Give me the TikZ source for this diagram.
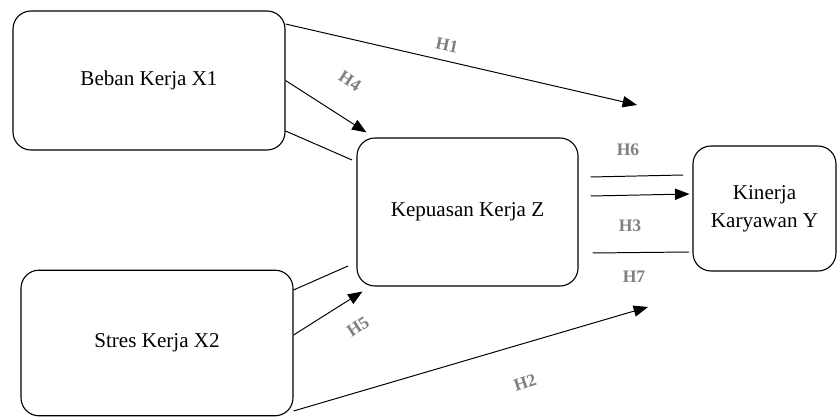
\documentclass[tikz,border=0pt]{standalone}
\usepackage{fontspec}
\setmainfont{Liberation Serif}
\usetikzlibrary{arrows.meta}
\tikzset{
	varbox/.style={draw, line width=0.8pt, rounded corners=0.45cm, inner sep=0pt, align=center, font=\fontsize{15}{20}\selectfont},
	hlabel/.style={text=black!50, inner sep=1pt, font=\fontsize{12.5}{13}\selectfont\bfseries},
	link/.style={line width=0.7pt},
	linkarrow/.style={line width=0.7pt, -{Triangle[length=0.36cm,width=0.28cm]}}
}

\begin{document}
\begin{tikzpicture}
			%%%%% START %%%%%
			\useasboundingbox (0, 0) rectangle (20.95, 10.425);
			
			\node[varbox, minimum width=6.8cm, minimum height=3.475cm] (bebankerja) at (3.725, 8.4125) {Beban Kerja X1};
			\node[varbox, minimum width=6.8cm, minimum height=3.64cm] (streskerja) at (3.925, 1.85) {Stres Kerja X2};
			\node[varbox, minimum width=5.525cm, minimum height=3.7cm] (kepuasan) at (11.6875, 5.125) {Kepuasan Kerja Z};
			\node[varbox, minimum width=3.575cm, minimum height=3.125cm] (kinerja) at (19.1125, 5.2125) {Kinerja\\Karyawan Y};
			
			\coordinate (h1end) at (15.925, 7.8);
			\coordinate (h2end) at (16.2, 2.75);
			\coordinate (x1stub) at (8.8, 6.425);
			\coordinate (x2stub) at (8.7, 3.775);
			
			\draw[linkarrow] ([yshift=1.4125cm]bebankerja.east) -- (h1end);
			\draw[linkarrow] (bebankerja.east) -- ([shift={(0.25cm,0.125cm)}]kepuasan.north west);
			\draw[link] ([yshift=-1.2625cm]bebankerja.east) -- (x1stub);
			
			\draw[link] ([yshift=1.325cm]streskerja.east) -- (x2stub);
			\draw[linkarrow] ([yshift=0.2cm]streskerja.east) -- ([shift={(0.15cm,-0.125cm)}]kepuasan.south west);
			\draw[linkarrow] ([yshift=-1.7cm]streskerja.east) -- (h2end);
			
			\draw[link] ([shift={(0.3cm,0.875cm)}]kepuasan.east) -- ([shift={(-0.225cm,0.8375cm)}]kinerja.west);
			\draw[linkarrow] ([shift={(0.3cm,0.4cm)}]kepuasan.east) -- ([shift={(-0.075cm,0.3625cm)}]kinerja.west);
			\draw[link] ([shift={(0.35cm,-1.025cm)}]kepuasan.east) -- ([shift={(-0.075cm,-1.0875cm)}]kinerja.west);
			
			\node[hlabel, rotate=-12] (lblh1) at (11.175, 9.3) {H1};
			\node[hlabel, rotate=-33] (lblh4) at (8.75, 8.4) {H4};
			\node[hlabel] (lblh6) at (15.7, 6.675) {H6};
			\node[hlabel] (lblh3) at (15.75, 4.775) {H3};
			\node[hlabel] (lblh7) at (15.85, 3.5) {H7};
			\node[hlabel, rotate=33] (lblh5) at (8.95, 2.25) {H5};
			\node[hlabel, rotate=18] (lblh2) at (13.125, 0.85) {H2};
			%%%%% END %%%%%
		\end{tikzpicture}
\end{document}
